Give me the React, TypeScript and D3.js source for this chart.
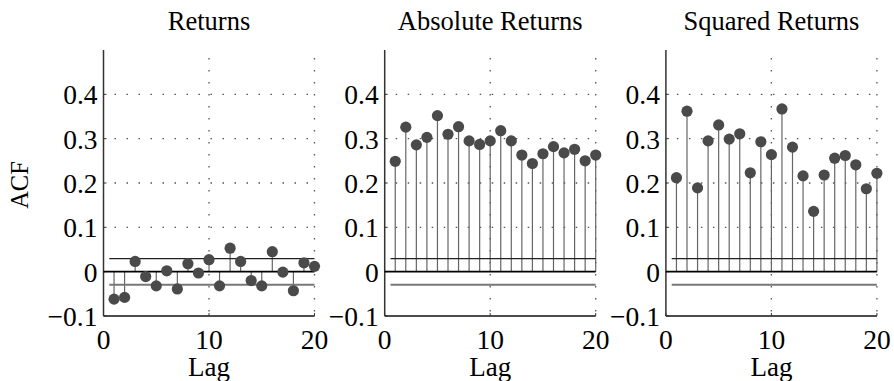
import React from "react";
import * as d3 from "d3";

const lags = d3.range(1, 21);
const titles = ["Returns", "Absolute Returns", "Squared Returns"];
const returnsAcf = [-0.062, -0.058, 0.023, -0.011, -0.032, 0.002, -0.039, 0.018, -0.003, 0.027,
  -0.032, 0.053, 0.023, -0.020, -0.032, 0.045, -0.001, -0.043, 0.020, 0.012];
const absAcf = [0.249, 0.326, 0.286, 0.303, 0.352, 0.310, 0.327, 0.295, 0.287, 0.295,
  0.318, 0.295, 0.263, 0.244, 0.266, 0.282, 0.268, 0.276, 0.250, 0.263];
const sqAcf = [0.212, 0.362, 0.189, 0.295, 0.331, 0.299, 0.311, 0.223, 0.293, 0.264,
  0.367, 0.281, 0.216, 0.136, 0.218, 0.256, 0.262, 0.241, 0.187, 0.222];
const series = [returnsAcf, absAcf, sqAcf];
const confBound = 0.0295;
const yTicks = [-0.1, 0, 0.1, 0.2, 0.3, 0.4];
const xTicks = [0, 10, 20];
const yGrid = [0.1, 0.2, 0.3, 0.4];
const xGrid = [10, 20];

const W = 894, H = 381;
const FONT = "Liberation Serif, Times New Roman, Times, DejaVu Serif, serif";
const txt = { fontFamily: FONT };

function fmt(v: number) {
  if (Math.abs(v) < 1e-9) return "0";
  const s = d3.format(".1f")(Math.abs(v));
  return (v < 0 ? "\u2212" : "") + s;
}

function Panel({ idx }: { idx: number }) {
  const left = 103.5 + idx * 281.2;
  const pw = 211;
  const x = d3.scaleLinear().domain([0, 20]).range([left, left + pw]);
  const y = d3.scaleLinear().domain([-0.1, 0.5]).range([316, 50]);
  const data = series[idx];
  const [x0, x1] = x.range();
  const [yb, yt] = y.range();
  return (
    <g>
      {yGrid.map((v) => (
        <line key={"yg" + v} x1={x0} x2={x1} y1={y(v)} y2={y(v)} stroke="#555" strokeWidth={1.3}
          strokeDasharray="1.5 10.5" strokeDashoffset={-11} />
      ))}
      {xGrid.map((v) => (
        <line key={"xg" + v} x1={x(v)} x2={x(v)} y1={yt} y2={yb} stroke="#555" strokeWidth={1.3}
          strokeDasharray="1.5 10.5" strokeDashoffset={-8} />
      ))}
      <line x1={x0} x2={x0} y1={yt} y2={yb} stroke="#333" strokeWidth={1.5} />
      <line x1={x0} x2={x1} y1={yb} y2={yb} stroke="#111" strokeWidth={1.5} />
      {yTicks.map((v) => (
        <g key={"yt" + v}>
          <line x1={x0} x2={x0 + 3} y1={y(v)} y2={y(v)} stroke="#333" strokeWidth={1} />
          <text x={x0 - 6} y={y(v) + 10} textAnchor="end" style={txt} fontSize={27.5} fill="#000">{fmt(v)}</text>
        </g>
      ))}
      {xTicks.map((v) => (
        <g key={"xt" + v}>
          <line x1={x(v)} x2={x(v)} y1={yb} y2={yb - 3} stroke="#333" strokeWidth={1} />
          <text x={x(v)} y={yb + 33} textAnchor="middle" style={txt} fontSize={27.5} fill="#000">{v}</text>
        </g>
      ))}
      {lags.map((l, i) => (
        <line key={"s" + l} x1={x(l)} x2={x(l)} y1={y(0)} y2={y(data[i])} stroke="#666" strokeWidth={1.2} />
      ))}
      <line x1={x(0.55)} x2={x(20)} y1={y(confBound)} y2={y(confBound)} stroke="#222" strokeWidth={1.1} />
      <line x1={x(0.55)} x2={x(20)} y1={y(-confBound)} y2={y(-confBound)} stroke="#777" strokeWidth={2} />
      <line x1={x0} x2={x1} y1={y(0)} y2={y(0)} stroke="#000" strokeWidth={1.6} />
      {lags.map((l, i) => (
        <circle key={"c" + l} cx={x(l)} cy={y(data[i])} r={5.6} fill="#4a4a4a" />
      ))}
      <text x={(x0 + x1) / 2} y={30} textAnchor="middle" style={txt} fontSize={26.5} fill="#000">{titles[idx]}</text>
      <text x={(x0 + x1) / 2} y={376} textAnchor="middle" style={txt} fontSize={27} fill="#000">Lag</text>
    </g>
  );
}

export default function App() {
  return (
    <div style={{ position: "fixed", left: 0, top: 0, width: W, height: H, background: "#fff" }}>
      <svg width={W} height={H} style={{ display: "block" }}>
        <rect width={W} height={H} fill="#fff" />
        {[0, 1, 2].map((i) => <Panel key={i} idx={i} />)}
        <text transform={`translate(28,185) rotate(-90)`} textAnchor="middle" style={txt} fontSize={24.5} fill="#000">ACF</text>
      </svg>
    </div>
  );
}
